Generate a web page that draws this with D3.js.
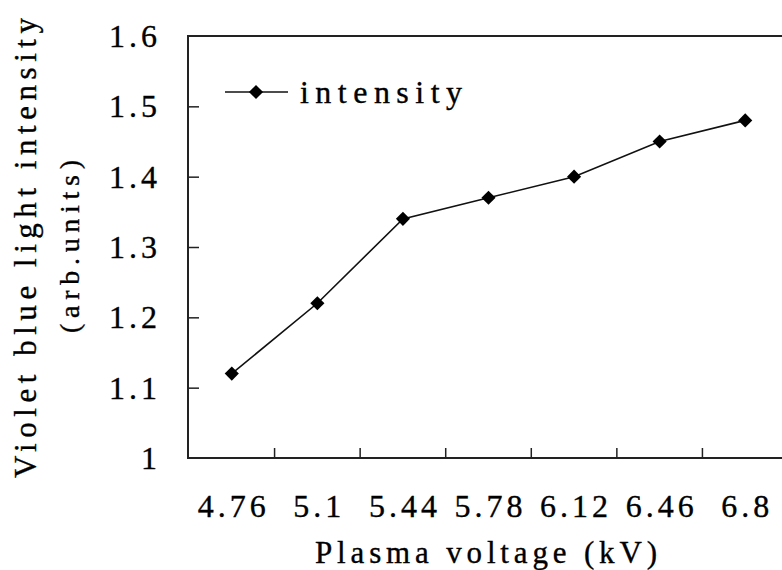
<!DOCTYPE html>
<html>
<head>
<meta charset="utf-8">
<script src="https://cdn.jsdelivr.net/npm/d3@7"></script>
<style>
  body { margin: 0; background: #fff; }
  svg text { font-family: "Liberation Serif", "DejaVu Serif", serif; fill: #000; stroke: #000; stroke-width: 0.35px; }
</style>
</head>
<body>
<svg width="782" height="570"></svg>
<script>
// data
const voltages = ["4.76", "5.1", "5.44", "5.78", "6.12", "6.46", "6.8"];
const intensity = [1.12, 1.22, 1.34, 1.37, 1.40, 1.45, 1.48];
const yTicks = [1, 1.1, 1.2, 1.3, 1.4, 1.5, 1.6];
const seriesName = "intensity";

const svg = d3.select("svg");
const plotLeft = 188, plotTop = 36, plotBottom = 458, plotRight = 788;

var x = d3.scaleBand().domain(voltages).range([plotLeft + 1, plotRight]).padding(0);
var y = d3.scaleLinear().domain([1, 1.6]).range([plotBottom, plotTop]);

const rows = voltages.map((v, i) => ({v: v, val: intensity[i]}));

// frame (right edge falls off the picture)
svg.append("path")
  .attr("d", `M${plotRight},${plotTop}H${plotLeft}V${plotBottom}H${plotRight}`)
  .attr("fill", "none")
  .attr("stroke", "#222")
  .attr("stroke-width", 2);

// x labels
var gx = svg.append("g")
  .attr("transform", `translate(0,${plotBottom})`)
  .call(d3.axisBottom(x).tickSize(0).tickPadding(0));
gx.select(".domain").remove();
gx.selectAll("text")
  .attr("y", 59)
  .attr("dy", 0)
  .style("font-size", "32px")
  .style("letter-spacing", "4px")
  .attr("dx", 2);

// inward x ticks between the categories
svg.append("g").selectAll("line")
  .data(voltages.slice(1))
  .join("line")
    .attr("x1", d => x(d))
    .attr("x2", d => x(d))
    .attr("y1", plotBottom)
    .attr("y2", plotBottom - 10)
    .attr("stroke", "#222")
    .attr("stroke-width", 1.5);

// y labels
var gy = svg.append("g")
  .attr("transform", `translate(157,0)`)
  .call(d3.axisLeft(y).tickValues(yTicks).tickSize(0).tickPadding(0)
    .tickFormat(d => d === 1 ? "1" : d3.format(".1f")(d)));
gy.select(".domain").remove();
gy.selectAll("text")
  .attr("dy", "0.33em")
  .attr("dx", 4)
  .style("font-size", "32px")
  .style("letter-spacing", "4px");

// inward y ticks
var gyt = svg.append("g")
  .attr("transform", `translate(${plotLeft},0)`)
  .call(d3.axisRight(y).tickValues(yTicks.slice(1, -1)).tickSize(11).tickFormat(""));
gyt.select(".domain").remove();
gyt.selectAll("line").attr("stroke", "#222").attr("stroke-width", 1.5);

// line + diamonds
var line = d3.line()
  .x(d => x(d.v) + x.bandwidth() / 2)
  .y(d => y(d.val));

svg.append("path")
  .datum(rows)
  .attr("d", line)
  .attr("fill", "none")
  .attr("stroke", "#111")
  .attr("stroke-width", 1.6);

var diamond = d3.symbol().type(d3.symbolSquare).size(100);

svg.append("g").selectAll("path")
  .data(rows)
  .join("path")
    .attr("d", diamond)
    .attr("transform", d => `translate(${x(d.v) + x.bandwidth() / 2},${y(d.val)}) rotate(45)`)
    .attr("fill", "#000");

// legend
var lg = svg.append("g").attr("transform", "translate(225,92)");
lg.append("line").attr("x1", 0).attr("x2", 63).attr("stroke", "#111").attr("stroke-width", 1.6);
lg.append("path").attr("d", diamond).attr("transform", "translate(31,0) rotate(45)").attr("fill", "#000");
lg.append("text")
  .attr("x", 75).attr("y", 11)
  .attr("textLength", 162).attr("lengthAdjust", "spacing")
  .style("font-size", "32px")
  .text(seriesName);

// axis titles
svg.append("text")
  .attr("x", 315).attr("y", 563)
  .attr("textLength", 342).attr("lengthAdjust", "spacing")
  .style("font-size", "31px")
  .text("Plasma voltage (kV)");

svg.append("text")
  .attr("transform", "translate(36,478) rotate(-90)")
  .attr("textLength", 460).attr("lengthAdjust", "spacing")
  .style("font-size", "31px")
  .text("Violet blue light intensity");

svg.append("text")
  .attr("transform", "translate(79,333) rotate(-90)")
  .attr("textLength", 173).attr("lengthAdjust", "spacing")
  .style("font-size", "28px")
  .text("(arb.units)");
</script>
</body>
</html>
